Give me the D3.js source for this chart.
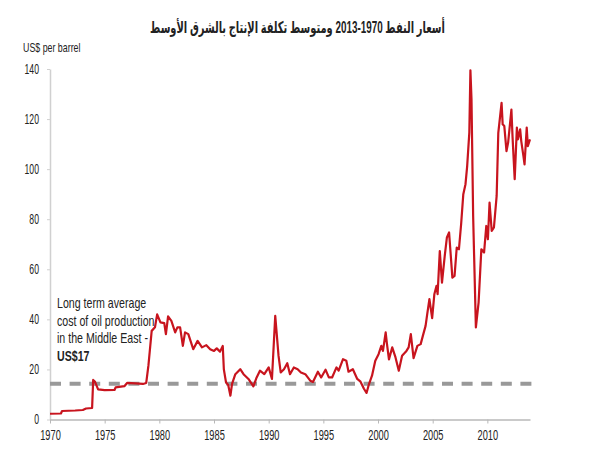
<!DOCTYPE html>
<html>
<head>
<meta charset="utf-8">
<script src="https://cdn.jsdelivr.net/npm/d3@7"></script>
<style>
    body { margin: 0; background: #fff; }
    svg text { font-family: "Liberation Sans", Arial, sans-serif; fill: #222; }
</style>
</head>
<body>
<svg id="chart" width="591" height="450"></svg>
<script>
const title = 'أسعار النفط 1970-2013 ومتوسط تكلفة الإنتاج بالشرق الأوسط';
const unitLabel = 'US$ per barrel';
const noteLines = ['Long term average', 'cost of oil production', 'in the Middle East -'];
const noteValue = 'US$17';

const yTicks = [0, 20, 40, 60, 80, 100, 120, 140];
const xTicks = [1970, 1975, 1980, 1985, 1990, 1995, 2000, 2005, 2010];

// average production cost line, as drawn
const costLevel = 14.3;

// oil price (decimal year, US$ per barrel)
const years = [
    1970.0, 1971.0, 1971.1, 1972.3, 1973.0, 1973.3, 1973.85, 1973.95, 1974.1, 1974.4,
    1975.0, 1975.9, 1976.0, 1976.8, 1977.05, 1977.8, 1978.5, 1978.8, 1979.0, 1979.3,
    1979.6, 1979.8, 1980.1, 1980.45, 1980.6, 1980.8, 1981.1, 1981.45, 1981.65, 1981.9,
    1982.15, 1982.35, 1982.65, 1982.8, 1983.1, 1983.5, 1983.9, 1984.3, 1984.65, 1985.0,
    1985.25, 1985.55, 1985.8, 1985.9, 1986.1, 1986.3, 1986.5, 1986.65, 1986.95, 1987.4,
    1987.7, 1988.15, 1988.6, 1988.9, 1989.2, 1989.6, 1990.0, 1990.3, 1990.6, 1990.9,
    1991.1, 1991.4, 1991.7, 1991.95, 1992.3, 1992.65, 1992.95, 1993.35, 1993.8, 1994.05,
    1994.5, 1994.8, 1995.2, 1995.5, 1995.8, 1996.2, 1996.4, 1996.8, 1997.1, 1997.3,
    1997.7, 1998.1, 1998.4, 1998.7, 1998.95, 1999.15, 1999.45, 1999.75, 2000.05, 2000.3,
    2000.45, 2000.7, 2000.8, 2001.0, 2001.3, 2001.6, 2001.9, 2002.2, 2002.6, 2002.8,
    2003.0, 2003.25, 2003.6, 2003.9, 2004.1, 2004.35, 2004.5, 2004.7, 2004.95, 2005.15,
    2005.35, 2005.45, 2005.65, 2005.85, 2006.1, 2006.3, 2006.5, 2006.8, 2007.0, 2007.2,
    2007.4, 2007.6, 2007.8, 2008.0, 2008.15, 2008.35, 2008.45, 2008.55, 2008.7, 2008.95,
    2009.2, 2009.45, 2009.7, 2009.9, 2010.05, 2010.2, 2010.4, 2010.6, 2010.85, 2011.0,
    2011.3, 2011.4, 2011.55, 2011.75, 2011.9, 2012.2, 2012.3, 2012.5, 2012.7, 2012.8,
    2013.0, 2013.1, 2013.3, 2013.4, 2013.6, 2013.7, 2013.9
];
const prices = [
    2.3, 2.4, 3.4, 3.6, 3.8, 4.4, 4.6, 15.8, 15.2, 12.0,
    11.7, 11.8, 12.8, 13.3, 14.6, 14.4, 14.2, 14.6, 21.5, 35.4,
    36.8, 42.0, 38.8, 38.5, 34.1, 41.2, 39.4, 34.8, 36.8, 36.8,
    29.4, 34.8, 34.1, 32.1, 28.1, 31.4, 28.8, 29.7, 28.1, 27.4,
    28.4, 27.1, 29.4, 20.0, 14.8, 13.8, 9.5, 14.2, 18.1, 20.1,
    18.1, 16.2, 13.2, 16.8, 19.5, 18.1, 20.8, 16.2, 41.4, 25.5,
    18.8, 20.1, 22.5, 18.1, 20.8, 20.1, 18.8, 18.1, 15.5, 15.0,
    19.1, 16.8, 19.9, 16.8, 16.8, 20.8, 19.5, 24.1, 23.5, 19.1,
    20.1, 16.2, 15.1, 12.4, 10.6, 13.8, 17.5, 23.5, 26.1, 29.4,
    27.4, 34.8, 30.8, 24.0, 28.8, 24.8, 19.5, 25.5, 27.4, 28.8,
    34.1, 24.5, 29.4, 30.1, 33.4, 37.4, 42.1, 48.1, 40.5, 50.0,
    53.4, 50.1, 67.3, 54.7, 65.3, 72.7, 74.7, 56.7, 57.4, 68.7,
    68.0, 78.0, 90.0, 94.0, 101.0, 114.6, 139.5, 127.8, 81.3, 36.8,
    46.8, 68.0, 66.7, 77.3, 72.0, 86.6, 75.3, 76.7, 89.3, 114.5,
    126.5, 117.9, 117.2, 107.2, 110.6, 123.8, 113.2, 96.0, 116.6, 111.9,
    115.9, 111.2, 105.2, 101.9, 116.6, 109.2, 111.9
];

const margin = { top: 69, left: 50, right: 61, bottom: 30 };
const width = 591;
const height = 450;
const innerWidth = width - margin.left - margin.right;
const innerHeight = height - margin.top - margin.bottom - 0.5;

// the source picture is squeezed sideways, so every text is too
const yLabelSqueeze = 0.62;
const xLabelSqueeze = 0.66;

const series = years.map((year, i) => ({ year, value: prices[i] }));

const svg = d3.select('#chart');

const x = d3.scaleLinear()
    .domain([1970, 2013.9])
    .range([0, innerWidth]);

const y = d3.scaleLinear()
    .domain([0, 140])
    .range([innerHeight, 0]);

const g = svg.append('g')
    .attr('transform', `translate(${[margin.left, margin.top]})`);

// y axis
const yAxis = g.append('g')
    .call(d3.axisLeft(y).tickValues(yTicks).tickSize(3).tickSizeOuter(0).tickPadding(8));
yAxis.select('.domain').attr('stroke', '#d0d0d0').attr('stroke-width', 1.5);
yAxis.selectAll('.tick line').attr('stroke', '#d0d0d0');
yAxis.selectAll('.tick text')
    .style('font-size', '14px')
    .attr('fill', '#333')
    .attr('x', -11 / yLabelSqueeze)
    .attr('transform', `scale(${yLabelSqueeze},1)`);

// x axis
const xAxis = g.append('g')
    .attr('transform', `translate(0, ${innerHeight})`)
    .call(d3.axisBottom(x).tickValues(xTicks).tickFormat(d3.format('d')).tickSize(4).tickSizeOuter(0).tickPadding(7));
xAxis.select('.domain').attr('stroke', '#b8b8b8').attr('stroke-width', 1.5);
xAxis.selectAll('.tick line').attr('stroke', '#b8b8b8');
xAxis.selectAll('.tick text')
    .style('font-size', '14px')
    .attr('fill', '#333')
    .attr('transform', `scale(${xLabelSqueeze},1)`);

// production cost
g.append('line')
    .attr('x1', x(1970))
    .attr('x2', x(2013.9) + 2)
    .attr('y1', y(costLevel))
    .attr('y2', y(costLevel))
    .attr('stroke', '#999')
    .attr('stroke-width', 4)
    .attr('stroke-dasharray', '11,8.6');

// price line
const line = d3.line()
    .x(d => x(d.year))
    .y(d => y(d.value));

g.append('path')
    .datum(series)
    .attr('fill', 'none')
    .attr('stroke', '#c8141e')
    .attr('stroke-width', 2.2)
    .attr('stroke-linejoin', 'round')
    .attr('d', line);

// title, fitted to the width it has in the picture
const titleText = svg.append('text')
    .attr('text-anchor', 'middle')
    .attr('direction', 'rtl')
    .style('font-family', '"Liberation Sans", "DejaVu Sans", sans-serif')
    .style('font-weight', 'bold')
    .style('font-size', '16px')
    .text(title);
const titleWidth = titleText.node().getComputedTextLength();
titleText.attr('transform', `translate(297.5, 33) scale(${295 / titleWidth},1)`);

svg.append('text')
    .attr('transform', 'translate(23, 52) scale(0.68,1)')
    .style('font-size', '13px')
    .text(unitLabel);

const note = svg.append('text')
    .attr('transform', 'translate(57, 308) scale(0.76,1)')
    .style('font-size', '14px');

noteLines.forEach((t, i) => {
    note.append('tspan')
        .attr('x', 0)
        .attr('dy', i === 0 ? 0 : 17.7)
        .text(t);
});
note.append('tspan')
    .attr('x', 0)
    .attr('dy', 17.7)
    .style('font-weight', 'bold')
    .text(noteValue);
</script>
</body>
</html>
